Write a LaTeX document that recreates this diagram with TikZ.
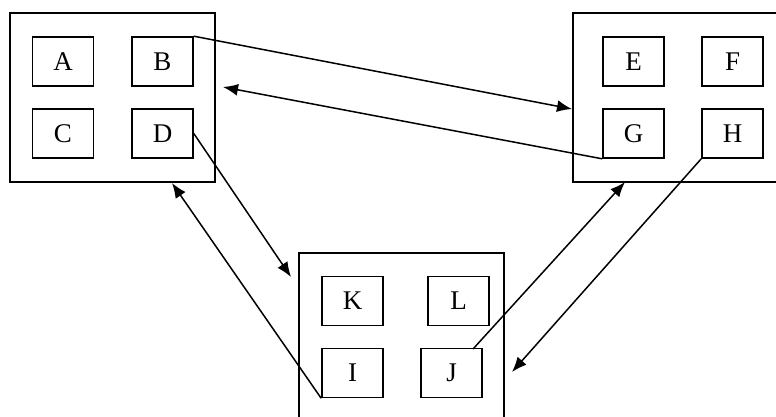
\documentclass[tikz,border=0pt]{standalone}
\usepackage{fontspec}
\setmainfont{Liberation Serif}
\usetikzlibrary{arrows.meta}
\begin{document}
\begin{tikzpicture}[x=1pt,y=-1pt,
  group/.style={draw,line width=1.6pt,minimum width=#1,minimum height=169pt,inner sep=0pt},
  item/.style={draw,line width=1.6pt,minimum width=61pt,minimum height=49pt,inner sep=0pt,font=\fontsize{27}{27}\selectfont},
  link/.style={line width=1.5pt,-{Latex[length=15pt,width=12pt]}}]
\useasboundingbox (0,0) rectangle (776,416);
% containers
\node[group=205pt] (left) at (112.5,97.5) {};
\node[group=204pt] (right) at (675,97.5) {};
\node[group=205pt] (bottom) at (401.5,337.5) {};
% inner boxes
\node[item] (A) at (63,61.5) {\raisebox{-4pt}{A}};
\node[item] (B) at (162.5,61.5) {\raisebox{-4pt}{B}};
\node[item] (C) at (63,133.5) {\raisebox{-4pt}{C}};
\node[item] (D) at (162.5,133.5) {\raisebox{-4pt}{D}};
\node[item] (E) at (633.5,61.5) {\raisebox{-4pt}{E}};
\node[item] (F) at (732.5,61.5) {\raisebox{-4pt}{F}};
\node[item] (G) at (633.5,133.5) {\raisebox{-4pt}{G}};
\node[item] (H) at (732.5,133.5) {\raisebox{-4pt}{H}};
\node[item] (K) at (352.5,301) {\raisebox{-4pt}{K}};
\node[item] (L) at (458.5,301) {\raisebox{-4pt}{L}};
\node[item] (I) at (352.5,373) {\raisebox{-4pt}{I}};
\node[item] (J) at (451.5,373) {\raisebox{-4pt}{J}};
% arrow ends
\coordinate (t1) at (572,109);
\coordinate (t2) at (223,87);
\coordinate (t3) at (291,277);
\coordinate (t4) at (172,183);
\coordinate (t5) at (625,182);
\coordinate (t6) at (512,372);
\coordinate (sJ) at (473,349);
% connectors
\draw[link] (B.north east) -- (t1);
\draw[link] (G.south west) -- (t2);
\draw[link] (D.east) -- (t3);
\draw[link] (I.south west) -- (t4);
\draw[link] (sJ) -- (t5);
\draw[link] (H.south west) -- (t6);
\end{tikzpicture}
\end{document}
